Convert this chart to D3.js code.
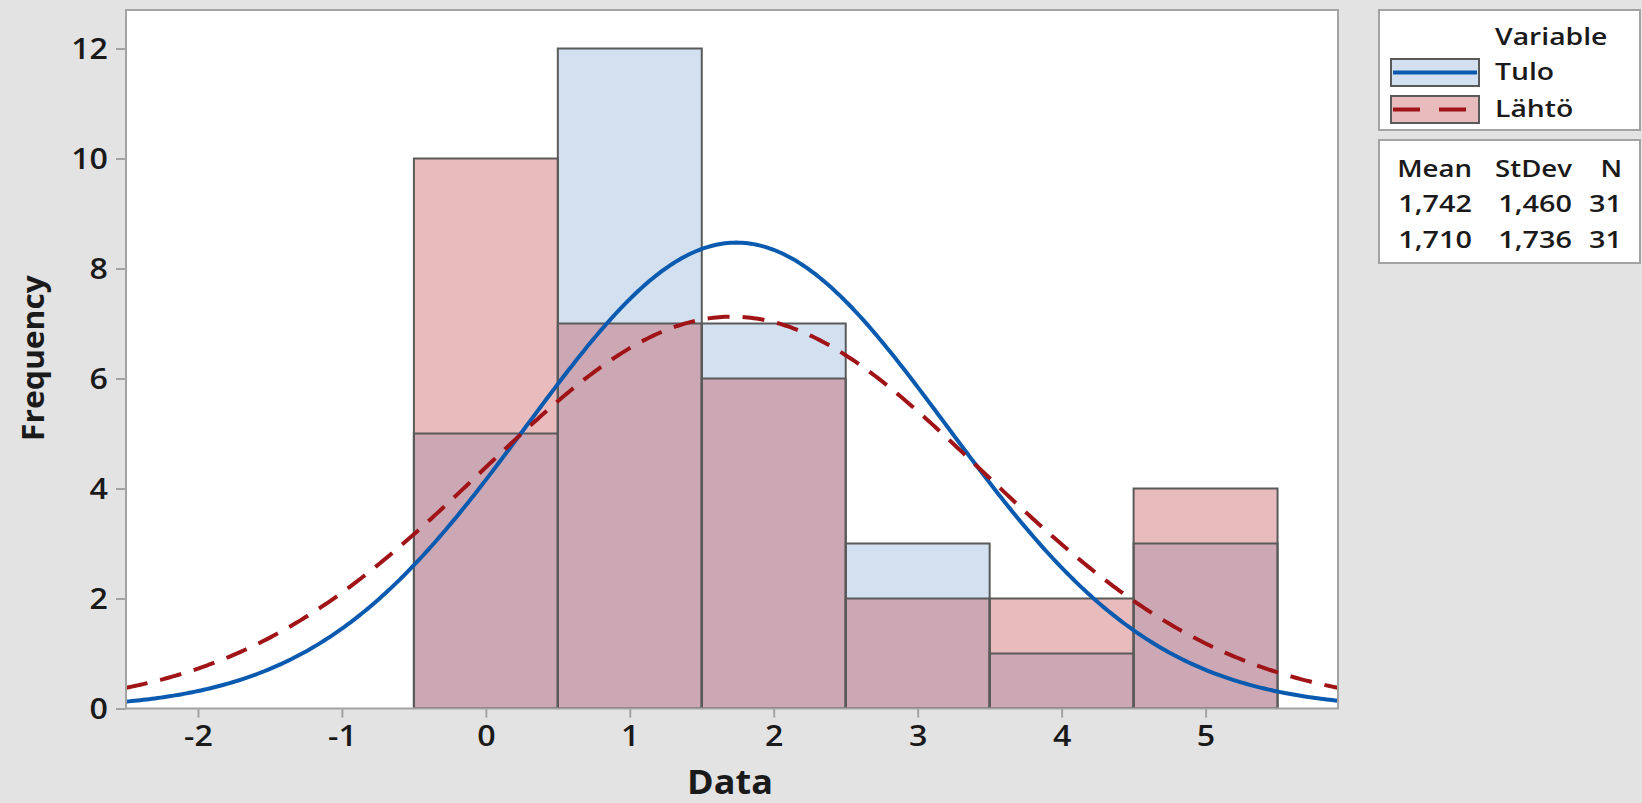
<!DOCTYPE html>
<html>
<head>
<meta charset="utf-8">
<script src="https://cdn.jsdelivr.net/npm/d3@7"></script>
<style>
  html, body { margin: 0; padding: 0; background: #e3e3e3; }
  svg { display: block; }
  text { font-family: "Open Sans", "Noto Sans", sans-serif; fill: #1a1a1a; }
</style>
</head>
<body>
<svg id="chart" width="1642" height="803"></svg>
<script>
// ---- data ----
const bins = [0, 1, 2, 3, 4, 5];
const tuloCounts = [5, 12, 7, 3, 1, 3];
const lahtoCounts = [10, 7, 6, 2, 2, 4];
const seriesNames = ["Tulo", "Lähtö"];
const means = [1.742, 1.710];
const stdevs = [1.460, 1.736];
const ns = [31, 31];
const meanLabels = ["1,742", "1,710"];
const stdevLabels = ["1,460", "1,736"];
const xTicks = [-2, -1, 0, 1, 2, 3, 4, 5];
const yTicks = [0, 2, 4, 6, 8, 10, 12];
const binWidth = 1;

// ---- layout ----
const svg = d3.select("#chart");
const W = 1642, H = 803;
const plot = { left: 126, right: 1338, top: 10, bottom: 708.5 };
const x = d3.scaleLinear().domain([-2.5, 5.92]).range([plot.left, plot.right]);
const y = d3.scaleLinear().domain([0, 12.7]).range([plot.bottom, plot.top]);

const blueFill = "#d2e0f0";
const pinkFill = "rgb(194,76,81)";
const pinkOpacity = 0.38;
const blueLine = "#0a5bb0";
const redLine = "#a01418";
const edge = "#5a5a5a";

// stretched text helper (reference font is wider than available fonts)
function stext(parent, tx, ty, str, size, weight, sx, anchor) {
  return parent.append("text")
    .attr("transform", `translate(${tx},${ty}) scale(${sx},1)`)
    .attr("text-anchor", anchor || "start")
    .style("font-size", size + "px").style("font-weight", weight)
    .text(str);
}

svg.append("rect").attr("width", W).attr("height", H).attr("fill", "#e3e3e3");

// plot background
svg.append("rect")
  .attr("x", plot.left).attr("y", plot.top)
  .attr("width", plot.right - plot.left).attr("height", plot.bottom - plot.top)
  .attr("fill", "#ffffff");

svg.append("clipPath").attr("id", "clip").append("rect")
  .attr("x", plot.left).attr("y", plot.top)
  .attr("width", plot.right - plot.left).attr("height", plot.bottom - plot.top);

const g = svg.append("g").attr("clip-path", "url(#clip)");

const tulo = bins.map((b, i) => ({ b, v: tuloCounts[i] }));
const lahto = bins.map((b, i) => ({ b, v: lahtoCounts[i] }));

// fills
g.selectAll("rect.tulo").data(tulo).join("rect")
  .attr("x", d => x(d.b - binWidth / 2))
  .attr("width", d => x(d.b + binWidth / 2) - x(d.b - binWidth / 2))
  .attr("y", d => y(d.v))
  .attr("height", d => y(0) - y(d.v))
  .attr("fill", blueFill);

g.selectAll("rect.lahto").data(lahto).join("rect")
  .attr("x", d => x(d.b - binWidth / 2))
  .attr("width", d => x(d.b + binWidth / 2) - x(d.b - binWidth / 2))
  .attr("y", d => y(d.v))
  .attr("height", d => y(0) - y(d.v))
  .attr("fill", pinkFill).attr("fill-opacity", pinkOpacity);

// outlines
[tulo, lahto].forEach(arr => {
  g.append("g").selectAll("rect").data(arr).join("rect")
    .attr("x", d => x(d.b - binWidth / 2))
    .attr("width", d => x(d.b + binWidth / 2) - x(d.b - binWidth / 2))
    .attr("y", d => y(d.v))
    .attr("height", d => y(0) - y(d.v))
    .attr("fill", "none").attr("stroke", edge).attr("stroke-width", 2);
});

// fitted normal curves (from mean, stdev, N shown in the table)
const xs = d3.range(-2.5, 5.95, 0.02);
function normalCurve(mu, sd, n) {
  return xs.map(v => [v, n * binWidth * Math.exp(-0.5 * ((v - mu) / sd) ** 2) / (sd * Math.sqrt(2 * Math.PI))]);
}
const line = d3.line().x(d => x(d[0])).y(d => y(d[1]));

g.append("path").datum(normalCurve(means[0], stdevs[0], ns[0]))
  .attr("d", line).attr("fill", "none")
  .attr("stroke", blueLine).attr("stroke-width", 4);
g.append("path").datum(normalCurve(means[1], stdevs[1], ns[1]))
  .attr("d", line).attr("fill", "none")
  .attr("stroke", redLine).attr("stroke-width", 4)
  .attr("stroke-dasharray", "22,13");

// frame
svg.append("rect")
  .attr("x", plot.left).attr("y", plot.top)
  .attr("width", plot.right - plot.left).attr("height", plot.bottom - plot.top)
  .attr("fill", "none").attr("stroke", "#a3a3a3").attr("stroke-width", 2);

// axes
const tickSx = 1.15;
const xAxis = svg.append("g").attr("transform", `translate(0,${plot.bottom})`)
  .call(d3.axisBottom(x).tickValues(xTicks).tickSize(9).tickPadding(10).tickFormat(d => String(d)));
const yAxis = svg.append("g").attr("transform", `translate(${plot.left},0)`)
  .call(d3.axisLeft(y).tickValues(yTicks).tickSize(10).tickPadding(8).tickFormat(d => String(d)));
[xAxis, yAxis].forEach(a => {
  a.select(".domain").remove();
  a.selectAll(".tick line").attr("stroke", "#a3a3a3").attr("stroke-width", 2);
  a.selectAll(".tick text").attr("fill", "#1a1a1a")
    .style("font-family", '"Open Sans", sans-serif').style("font-size", "28px").style("font-weight", 600);
});
xAxis.selectAll(".tick text").attr("dy", "0.71em").attr("y", 18 / 1)
  .attr("transform", `scale(${tickSx},1)`);
yAxis.selectAll(".tick text").attr("dy", "0.36em").attr("x", -18 / tickSx)
  .attr("transform", `scale(${tickSx},1)`);

// axis titles
stext(svg, 730, 794, "Data", 34, 700, 1.06, "middle");
svg.append("text")
  .attr("transform", "translate(44,358) rotate(-90) scale(1.06,1)")
  .attr("text-anchor", "middle").style("font-size", "30px").style("font-weight", 700)
  .text("Frequency");

// legend box
const lg = svg.append("g");
lg.append("rect").attr("x", 1379).attr("y", 10).attr("width", 261).attr("height", 120)
  .attr("fill", "#fff").attr("stroke", "#a3a3a3").attr("stroke-width", 2);
stext(lg, 1495, 45, "Variable", 24, 600, 1.18);

const swY = [59, 96];
const swFills = [blueFill, pinkFill];
const swOp = [1, pinkOpacity];
const swLine = [blueLine, redLine];
const swDash = [null, "27,19"];
seriesNames.forEach((name, i) => {
  lg.append("rect").attr("x", 1391).attr("y", swY[i]).attr("width", 88).attr("height", 27)
    .attr("fill", "#fff");
  lg.append("rect").attr("x", 1391).attr("y", swY[i]).attr("width", 88).attr("height", 27)
    .attr("fill", swFills[i]).attr("fill-opacity", swOp[i])
    .attr("stroke", edge).attr("stroke-width", 2);
  lg.append("line").attr("x1", 1393).attr("x2", 1477)
    .attr("y1", swY[i] + 13.5).attr("y2", swY[i] + 13.5)
    .attr("stroke", swLine[i]).attr("stroke-width", 4)
    .attr("stroke-dasharray", swDash[i]);
  stext(lg, 1495, swY[i] + 21, name, 24, 600, 1.18);
});

// stats table
const tb = svg.append("g");
tb.append("rect").attr("x", 1379).attr("y", 140).attr("width", 261).attr("height", 123)
  .attr("fill", "#fff").attr("stroke", "#a3a3a3").attr("stroke-width", 2);
const colX = [1472, 1572, 1622];
const headers = ["Mean", "StDev", "N"];
headers.forEach((h, j) => {
  stext(tb, colX[j], 177, h, 23, 600, 1.2, "end");
});
const rowY = [212, 248];
seriesNames.forEach((name, i) => {
  [meanLabels[i], stdevLabels[i], String(ns[i])].forEach((v, j) => {
    stext(tb, colX[j], rowY[i], v, 24, 600, 1.2, "end");
  });
});
</script>
</body>
</html>
